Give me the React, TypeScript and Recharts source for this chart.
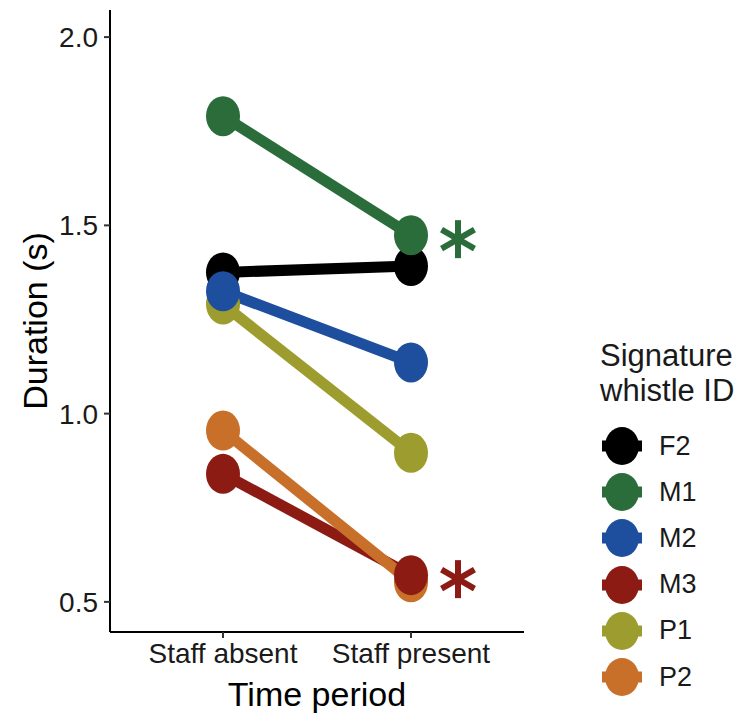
import { LineChart, Line, XAxis, YAxis, LabelList } from "recharts";

const periods = ["Staff absent", "Staff present"];
const yTicks = [0.5, 1.0, 1.5, 2.0];

const whistleIds = ["F2", "M1", "M2", "M3", "P1", "P2"];
const f2 = [1.375, 1.392];
const m1 = [1.79, 1.474];
const m2 = [1.325, 1.136];
const m3 = [0.84, 0.571];
const p1 = [1.29, 0.896];
const p2 = [0.955, 0.552];
const significant = ["M1", "M3"];
// stacking order of the points (later = on top)
const pointOrder = ["P2", "P1", "F2", "M1", "M2", "M3"];

const colors: Record<string, string> = {
  F2: "#000000",
  M1: "#2b6d3a",
  M2: "#1d4f9e",
  M3: "#8c1b13",
  P1: "#9c9d2e",
  P2: "#c8702a",
};

const series: Record<string, number[]> = { F2: f2, M1: m1, M2: m2, M3: m3, P1: p1, P2: p2 };

const data = periods.map((p, i) => {
  const row: any = { period: p };
  whistleIds.forEach((id) => (row[id] = series[id][i]));
  return row;
});

const font = "'Liberation Sans', Arial, Helvetica, sans-serif";

function Dot(props: any) {
  const { cx, cy, color } = props;
  if (cx == null || cy == null) return null;
  return <ellipse cx={cx} cy={cy} rx={17} ry={20} fill={color} />;
}

// significance asterisk drawn next to the "Staff present" point
function Star(color: string) {
  return (props: any) => {
    const { x, y, index } = props;
    if (index !== 1) return null;
    const cx = x + 47;
    const cy = y + 4;
    const r = 19;
    const arms = [90, 30, -30];
    return (
      <g>
        {arms.map((a) => {
          const dx = r * Math.cos((a * Math.PI) / 180);
          const dy = r * Math.sin((a * Math.PI) / 180);
          return (
            <line key={a} x1={cx - dx} y1={cy - dy} x2={cx + dx} y2={cy + dy} stroke={color} strokeWidth={6} />
          );
        })}
      </g>
    );
  };
}

function LegendBox() {
  return (
    <div style={{ position: "absolute", left: 600, top: 338, fontFamily: font, color: "#1a1a1a" }}>
      <div style={{ fontSize: 31, lineHeight: "35px" }}>
        Signature
        <br />
        whistle ID
      </div>
      <div style={{ marginTop: 15 }}>
        {whistleIds.map((id) => (
          <div key={id} style={{ display: "flex", alignItems: "center", height: 46.2 }}>
            <svg width={44} height={42}>
              <line x1={2} y1={21} x2={42} y2={21} stroke={colors[id]} strokeWidth={11} />
              <ellipse cx={22} cy={21} rx={17} ry={19} fill={colors[id]} />
            </svg>
            <span style={{ fontSize: 27, marginLeft: 15 }}>{id}</span>
          </div>
        ))}
      </div>
    </div>
  );
}

export default function App() {
  return (
    <div style={{ position: "absolute", left: 0, top: 0, width: 740, height: 713, background: "#fff" }}>
      <LineChart width={740} height={713} data={data} margin={{ top: 10, right: 216, bottom: 0, left: 0 }}>
        <XAxis
          dataKey="period"
          padding={{ left: 113, right: 113 }}
          axisLine={{ stroke: "#000", strokeWidth: 2 }}
          tickLine={{ stroke: "#333", strokeWidth: 2 }}
          tickSize={6}
          tick={{ fill: "#1a1a1a", fontSize: 28, fontFamily: font }}
          tickMargin={5}
          height={81}
          label={{
            value: "Time period",
            position: "insideBottom",
            offset: 7,
            fill: "#000",
            fontSize: 34,
            fontFamily: font,
          }}
        />
        <YAxis
          type="number"
          domain={[0.42, 2.072]}
          ticks={yTicks}
          allowDataOverflow
          width={110}
          tickFormatter={(v: number) => v.toFixed(1)}
          axisLine={{ stroke: "#000", strokeWidth: 2 }}
          tickLine={{ stroke: "#333", strokeWidth: 2 }}
          tickSize={6}
          tickMargin={6}
          tick={{ fill: "#1a1a1a", fontSize: 28, fontFamily: font }}
          label={{
            value: "Duration (s)",
            angle: -90,
            position: "insideLeft",
            offset: 35,
            fill: "#000",
            fontSize: 34,
            fontFamily: font,
            style: { textAnchor: "middle" },
          }}
        />
        {pointOrder.map((id) => (
          <Line
            key={"pt-" + id}
            dataKey={id}
            stroke="none"
            strokeWidth={0}
            type="linear"
            dot={<Dot color={colors[id]} />}
            activeDot={false}
            isAnimationActive={false}
          />
        ))}
        {whistleIds.map((id) => (
          <Line
            key={id}
            dataKey={id}
            name={id}
            stroke={colors[id]}
            strokeWidth={11}
            type="linear"
            dot={false}
            activeDot={false}
            isAnimationActive={false}
          >
            {significant.includes(id) && <LabelList dataKey={id} content={Star(colors[id])} />}
          </Line>
        ))}
      </LineChart>
      <LegendBox />
    </div>
  );
}
